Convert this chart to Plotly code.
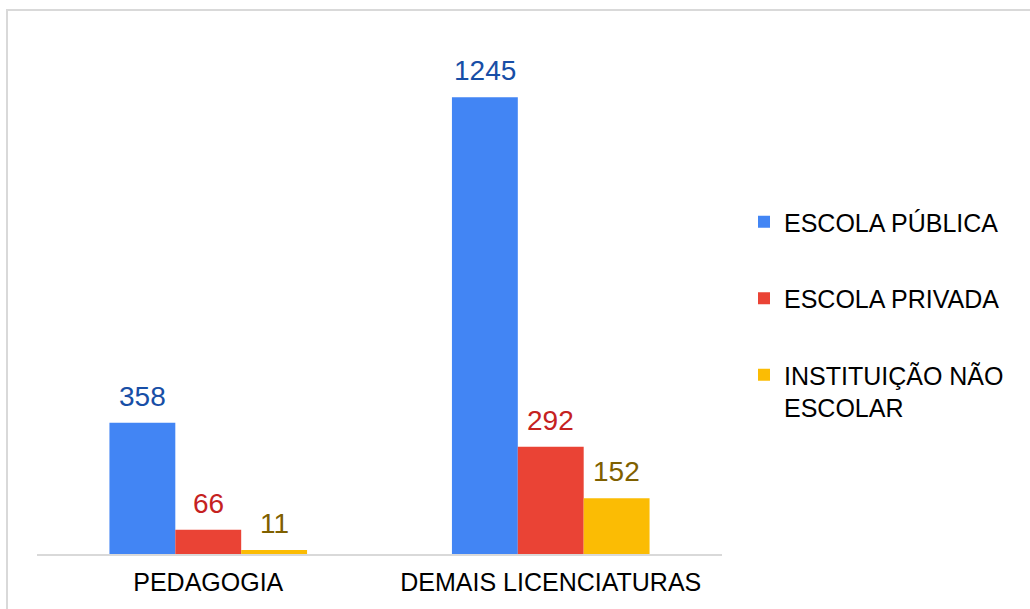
import plotly.graph_objects as go

categories = ["PEDAGOGIA", "DEMAIS LICENCIATURAS"]
series_names = ["ESCOLA PÚBLICA", "ESCOLA PRIVADA", "INSTITUIÇÃO NÃO<br>ESCOLAR"]
escola_publica = [358, 1245]
escola_privada = [66, 292]
instituicao_nao_escolar = [11, 152]
series_values = [escola_publica, escola_privada, instituicao_nao_escolar]

bar_colors = ["#4285F4", "#EA4335", "#FBBC04"]
label_colors = ["#174EA6", "#C5221F", "#7F6000"]

W, H = 1030, 609
ML, MR, MT, MB = 37, 308, 30, 55
BARGAP = 0.423
FONT = "Liberation Sans, Arial, sans-serif"

fig = go.Figure()
for j, (name, vals) in enumerate(zip(series_names, series_values)):
    fig.add_trace(go.Bar(
        x=categories, y=vals, name=name,
        marker=dict(color=bar_colors[j], line=dict(width=0)),
        legendgroup=f"g{j}",
    ))

plot_w = W - ML - MR
cat_px = plot_w / len(categories)
bar_px = cat_px * (1 - BARGAP) / len(series_values)
n = len(series_values)
for j, vals in enumerate(series_values):
    for cat, v in zip(categories, vals):
        fig.add_annotation(
            x=cat, y=v, text=str(v), showarrow=False,
            xref="x", yref="y", yanchor="bottom",
            xshift=(j - (n - 1) / 2) * bar_px, yshift=9,
            font=dict(family=FONT, size=28, color=label_colors[j]),
        )

plot_h = H - MT - MB
# light gray frame around the chart
fig.add_shape(
    type="rect", xref="paper", yref="paper",
    x0=(7 - ML) / plot_w, x1=(W + 10 - ML) / plot_w,
    y0=-(H + 10 - (H - MB)) / plot_h, y1=(H - MB - 10) / plot_h,
    line=dict(color="#D9D9D9", width=2), fillcolor="rgba(0,0,0,0)", layer="below",
)

fig.update_layout(
    width=W, height=H,
    margin=dict(l=ML, r=MR, t=MT, b=MB, autoexpand=False),
    paper_bgcolor="white", plot_bgcolor="white",
    barmode="group", bargap=BARGAP, bargroupgap=0,
    font=dict(family=FONT, color="#000000"),
    showlegend=True,
    legend=dict(
        x=(744 - ML) / plot_w, xanchor="left",
        y=(H - MB - 199) / plot_h, yanchor="top",
        font=dict(family=FONT, size=25, color="#000000"),
        traceorder="grouped", tracegroupgap=41, valign="top",
        bgcolor="rgba(0,0,0,0)",
    ),
    xaxis=dict(
        showline=True, linecolor="#D9D9D9", linewidth=2,
        ticks="", showgrid=False, zeroline=False,
        tickfont=dict(family=FONT, size=25, color="#000000"),
        ticklabelstandoff=5,
    ),
    yaxis=dict(
        range=[0, 1428], visible=False, showgrid=False, zeroline=False,
    ),
)

fig.write_html(
    "out.html",
    config={"displayModeBar": False},
    post_script="document.body.style.margin='0';document.body.style.overflow='hidden';",
)
